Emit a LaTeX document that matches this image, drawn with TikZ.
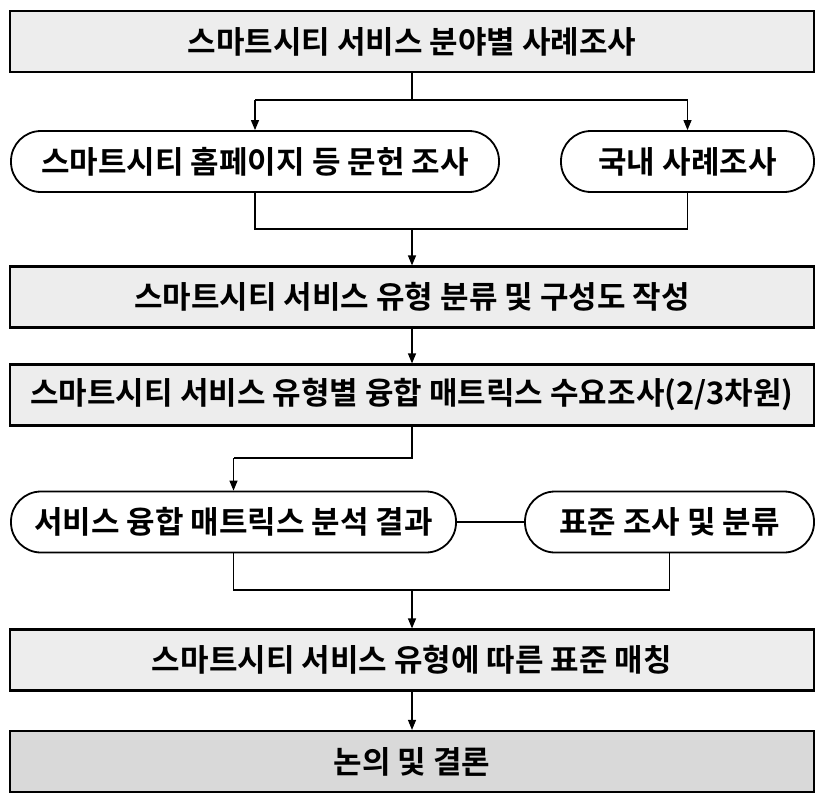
\documentclass[tikz,border=0pt]{standalone}
\usepackage{fontspec}
\setmainfont{Noto Sans CJK KR}[BoldFont={* Bold}]
\newfontfamily\kr{Noto Sans CJK KR Bold}
\usetikzlibrary{arrows.meta}
\definecolor{boxgray}{HTML}{EDEDED}
\definecolor{endgray}{HTML}{D9D9D9}
\tikzset{
  stepbox/.style={draw, line width=2.2pt, fill=boxgray, inner sep=0pt,
    minimum width=804pt, minimum height=61pt, font=\kr\fontsize{31pt}{34pt}\selectfont},
  pillbox/.style={draw, line width=1.8pt, fill=white, inner sep=0pt, rounded corners=30pt,
    minimum height=61pt, font=\kr\fontsize{31pt}{34pt}\selectfont},
  conn/.style={line width=1.2pt},
  arr/.style={line width=1.2pt, -{Triangle[length=10pt,width=8pt]}}
}
\begin{document}
\begin{tikzpicture}[x=1pt,y=-1pt]
\useasboundingbox (0,0) rectangle (825,811);
\node[stepbox] (b1) at (412,41.5) {스마트시티 서비스 분야별 사례조사};
\node[pillbox, minimum width=488pt] (p1) at (255,161.5) {스마트시티 홈페이지 등 문헌 조사};
\node[pillbox, minimum width=253pt] (p2) at (687.5,161.5) {국내 사례조사};
\node[stepbox] (b3) at (412,297) {스마트시티 서비스 유형 분류 및 구성도 작성};
\node[stepbox] (b4) at (412,395) {스마트시티 서비스 유형별 융합 매트릭스 수요조사(2/3차원)};
\node[pillbox, minimum width=445pt] (p3) at (233.5,522) {서비스 융합 매트릭스 분석 결과};
\node[pillbox, minimum width=289pt] (p4) at (669.5,522) {표준 조사 및 분류};
\node[stepbox] (b5) at (412,660) {스마트시티 서비스 유형에 따른 표준 매칭};
\node[stepbox, fill=endgray] (b6) at (412,761.5) {논의 및 결론};

\coordinate (s1) at (412,100);
\coordinate (s1l) at (255,100);
\coordinate (s1r) at (687.5,100);
\draw[conn] (b1.south) -- (s1);
\draw[conn] (s1l) -- (s1r);
\draw[arr] (s1l) -- (p1.north);
\draw[arr] (s1r) -- (p2.north);

\coordinate (m1l) at (255,229);
\coordinate (m1r) at (687.5,229);
\coordinate (m1) at (412,229);
\draw[conn] (p1.south) -- (m1l) -- (m1r) -- (p2.south);
\draw[arr] (m1) -- (b3.north);

\draw[arr] (b3.south) -- (b4.north);

\coordinate (s2) at (412,458);
\coordinate (s2l) at (233.5,458);
\draw[conn] (b4.south) -- (s2) -- (s2l);
\draw[arr] (s2l) -- (p3.north);

\draw[conn] (p3.east) -- (p4.west);

\coordinate (m2l) at (233.5,590);
\coordinate (m2r) at (669.5,590);
\coordinate (m2) at (412,590);
\draw[conn] (p3.south) -- (m2l) -- (m2r) -- (p4.south);
\draw[arr] (m2) -- (b5.north);

\draw[arr] (b5.south) -- (b6.north);
\end{tikzpicture}
\end{document}
